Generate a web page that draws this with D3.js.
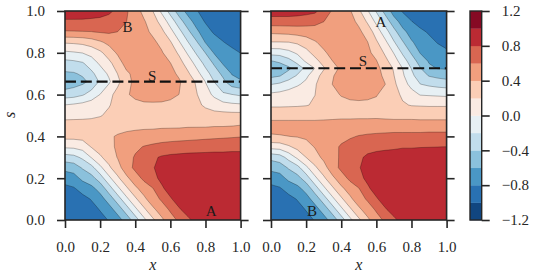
<!DOCTYPE html>
<html><head><meta charset="utf-8">
<script src="https://cdn.jsdelivr.net/npm/d3@7"></script>
<style>body{margin:0;background:#fff} svg text{font-family:"Liberation Serif","Times New Roman",serif !important;}</style>
</head><body><svg id="c" width="555" height="279"></svg>
<script>
// ---------------- data ----------------
const xCols = [0,0.05,0.1,0.15,0.2,0.25,0.3,0.35,0.4,0.45,0.5,0.55,0.6,0.65,0.7,0.75,0.8,0.85,0.9,0.95,1];
const levels = [-1.2,-1.0,-0.8,-0.6,-0.4,-0.2,0,0.2,0.4,0.6,0.8,1.0,1.2];
const xTicks = [0,0.2,0.4,0.6,0.8,1.0];
const sTicks = [0,0.2,0.4,0.6,0.8,1.0];
const cbTicks = [-1.2,-0.8,-0.4,0,0.4,0.8,1.2];

const leftRows = [1,0.95,0.9,0.85,0.8,0.75,0.7,0.662,0.6,0.55,0.5,0.45,0.4,0.35,0.3,0.25,0.2,0.15,0.1,0.05,0];
const leftGrid = [
[0.92,0.92,0.91,0.90,0.88,0.84,0.75,0.625,0.49,0.34,0.20,-0.04,-0.275,-0.50,-0.667,-0.79,-0.87,-0.92,-0.95,-0.97,-0.98],
[0.77,0.77,0.77,0.76,0.75,0.72,0.68,0.602,0.51,0.42,0.29,0.13,-0.09,-0.31,-0.52,-0.68,-0.82,-0.89,-0.93,-0.96,-0.97],
[0.58,0.585,0.59,0.595,0.615,0.625,0.598,0.55,0.50,0.45,0.365,0.25,0.07,-0.14,-0.35,-0.56,-0.71,-0.83,-0.89,-0.93,-0.95],
[0.22,0.23,0.25,0.30,0.37,0.45,0.52,0.55,0.54,0.50,0.44,0.35,0.22,0.02,-0.19,-0.38,-0.61,-0.70,-0.79,-0.86,-0.90],
[-0.04,-0.02,0.005,0.06,0.16,0.29,0.43,0.50,0.53,0.52,0.48,0.42,0.30,0.17,-0.03,-0.23,-0.405,-0.62,-0.68,-0.74,-0.805],
[-0.28,-0.26,-0.22,-0.10,0.03,0.15,0.30,0.48,0.51,0.52,0.51,0.47,0.405,0.27,0.12,-0.07,-0.26,-0.43,-0.62,-0.68,-0.72],
[-0.43,-0.42,-0.37,-0.25,-0.10,0.03,0.205,0.36,0.46,0.50,0.52,0.50,0.45,0.37,0.23,0.07,-0.12,-0.29,-0.45,-0.61,-0.66],
[-0.55,-0.50,-0.45,-0.35,-0.17,-0.03,0.15,0.33,0.45,0.50,0.52,0.51,0.47,0.42,0.31,0.17,-0.005,-0.205,-0.35,-0.53,-0.58],
[-0.30,-0.28,-0.22,-0.12,0.005,0.14,0.27,0.38,0.44,0.47,0.48,0.47,0.44,0.398,0.32,0.21,0.08,-0.04,-0.17,-0.195,-0.23],
[0.005,0.03,0.06,0.10,0.14,0.19,0.25,0.31,0.35,0.37,0.37,0.37,0.36,0.34,0.30,0.24,0.17,0.11,0.07,0.04,0.03],
[0.15,0.155,0.16,0.17,0.19,0.23,0.27,0.30,0.32,0.33,0.33,0.33,0.32,0.31,0.30,0.29,0.28,0.27,0.27,0.27,0.27],
[0.27,0.27,0.27,0.27,0.28,0.30,0.32,0.34,0.35,0.36,0.36,0.37,0.37,0.37,0.38,0.38,0.38,0.39,0.39,0.398,0.41],
[0.26,0.26,0.27,0.29,0.32,0.37,0.42,0.45,0.47,0.48,0.49,0.50,0.51,0.52,0.53,0.54,0.55,0.56,0.57,0.58,0.59],
[0.03,0.04,0.08,0.21,0.29,0.35,0.43,0.50,0.56,0.61,0.64,0.67,0.69,0.70,0.71,0.72,0.73,0.74,0.74,0.75,0.75],
[-0.29,-0.26,-0.16,0.01,0.17,0.29,0.41,0.52,0.62,0.70,0.77,0.82,0.84,0.85,0.86,0.86,0.86,0.86,0.86,0.86,0.86],
[-0.54,-0.51,-0.38,-0.27,-0.05,0.16,0.33,0.50,0.65,0.73,0.79,0.85,0.88,0.89,0.90,0.90,0.90,0.90,0.90,0.90,0.90],
[-0.72,-0.68,-0.55,-0.47,-0.30,-0.05,0.16,0.36,0.50,0.65,0.75,0.84,0.88,0.90,0.91,0.92,0.92,0.92,0.92,0.92,0.92],
[-0.85,-0.82,-0.73,-0.66,-0.53,-0.30,-0.05,0.16,0.36,0.48,0.59,0.77,0.87,0.91,0.93,0.94,0.94,0.94,0.94,0.94,0.94],
[-0.90,-0.89,-0.86,-0.79,-0.68,-0.52,-0.30,-0.05,0.16,0.36,0.50,0.63,0.78,0.88,0.92,0.94,0.95,0.95,0.95,0.95,0.95],
[-0.93,-0.92,-0.90,-0.87,-0.79,-0.68,-0.52,-0.30,-0.05,0.16,0.36,0.49,0.63,0.78,0.88,0.93,0.95,0.96,0.96,0.96,0.96],
[-0.95,-0.94,-0.93,-0.90,-0.86,-0.79,-0.68,-0.52,-0.30,-0.05,0.16,0.36,0.51,0.64,0.76,0.87,0.93,0.95,0.96,0.96,0.96]
];
const leftDash = 0.662;
const leftLabels = [{t:"B",x:0.356,s:0.923},{t:"S",x:0.496,s:0.689},{t:"A",x:0.832,s:0.043}];

const rightRows = [1,0.95,0.9,0.85,0.8,0.76,0.726,0.69,0.65,0.6,0.55,0.5,0.45,0.4,0.35,0.3,0.25,0.2,0.15,0.1,0.05,0];
const rightGrid = [
[0.90,0.90,0.90,0.89,0.87,0.84,0.71,0.58,0.50,0.42,0.24,0.02,-0.22,-0.47,-0.69,-0.82,-0.88,-0.92,-0.95,-0.97,-0.98],
[0.71,0.71,0.71,0.70,0.68,0.65,0.602,0.55,0.51,0.46,0.36,0.17,-0.05,-0.28,-0.52,-0.68,-0.795,-0.87,-0.92,-0.95,-0.96],
[0.44,0.45,0.46,0.48,0.50,0.52,0.53,0.53,0.52,0.49,0.44,0.32,0.11,-0.11,-0.33,-0.55,-0.67,-0.76,-0.82,-0.87,-0.90],
[0.19,0.19,0.195,0.23,0.29,0.38,0.46,0.50,0.51,0.49,0.45,0.405,0.23,0.05,-0.18,-0.38,-0.58,-0.67,-0.75,-0.81,-0.85],
[-0.13,-0.12,-0.06,0.03,0.14,0.26,0.37,0.46,0.50,0.50,0.48,0.44,0.34,0.17,-0.01,-0.23,-0.42,-0.61,-0.68,-0.73,-0.77],
[-0.41,-0.37,-0.27,-0.14,0.03,0.14,0.27,0.398,0.47,0.50,0.50,0.48,0.41,0.26,0.09,-0.10,-0.30,-0.48,-0.62,-0.65,-0.68],
[-0.55,-0.50,-0.44,-0.30,-0.15,0.005,0.18,0.32,0.44,0.49,0.51,0.50,0.45,0.33,0.18,-0.005,-0.21,-0.39,-0.56,-0.61,-0.62],
[-0.45,-0.41,-0.30,-0.18,-0.04,0.12,0.27,0.39,0.45,0.49,0.50,0.49,0.45,0.37,0.205,0.03,-0.15,-0.31,-0.41,-0.45,-0.48],
[-0.21,-0.17,-0.10,-0.03,0.05,0.18,0.30,0.402,0.45,0.48,0.49,0.48,0.45,0.402,0.24,0.08,-0.06,-0.198,-0.24,-0.27,-0.29],
[0.04,0.06,0.09,0.13,0.17,0.198,0.28,0.36,0.41,0.43,0.44,0.43,0.41,0.35,0.26,0.17,0.07,-0.01,-0.02,-0.03,-0.04],
[0.17,0.17,0.175,0.18,0.19,0.22,0.27,0.32,0.35,0.37,0.37,0.37,0.36,0.33,0.28,0.22,0.19,0.185,0.18,0.18,0.18],
[0.33,0.33,0.33,0.33,0.33,0.33,0.34,0.35,0.36,0.36,0.36,0.36,0.36,0.35,0.34,0.34,0.34,0.33,0.33,0.33,0.33],
[0.48,0.48,0.48,0.48,0.48,0.48,0.48,0.48,0.48,0.48,0.49,0.49,0.50,0.50,0.50,0.50,0.50,0.50,0.50,0.50,0.50],
[0.375,0.385,0.398,0.41,0.43,0.46,0.49,0.52,0.55,0.58,0.61,0.63,0.64,0.65,0.66,0.66,0.66,0.66,0.67,0.67,0.67],
[0.075,0.09,0.17,0.26,0.33,0.41,0.48,0.55,0.62,0.67,0.71,0.74,0.76,0.77,0.78,0.79,0.79,0.795,0.797,0.799,0.801],
[-0.34,-0.29,-0.13,0.04,0.202,0.33,0.44,0.53,0.63,0.70,0.77,0.83,0.85,0.86,0.86,0.87,0.87,0.87,0.87,0.87,0.87],
[-0.54,-0.51,-0.38,-0.27,-0.05,0.16,0.33,0.50,0.65,0.73,0.79,0.85,0.88,0.89,0.90,0.90,0.90,0.90,0.90,0.90,0.90],
[-0.72,-0.68,-0.55,-0.47,-0.30,-0.05,0.16,0.36,0.50,0.65,0.75,0.84,0.88,0.90,0.91,0.92,0.92,0.92,0.92,0.92,0.92],
[-0.85,-0.82,-0.73,-0.66,-0.53,-0.30,-0.05,0.16,0.36,0.48,0.59,0.77,0.87,0.91,0.93,0.94,0.94,0.94,0.94,0.94,0.94],
[-0.90,-0.89,-0.86,-0.79,-0.68,-0.52,-0.30,-0.05,0.16,0.36,0.50,0.63,0.78,0.88,0.92,0.94,0.95,0.95,0.95,0.95,0.95],
[-0.93,-0.92,-0.90,-0.87,-0.79,-0.68,-0.52,-0.30,-0.05,0.16,0.36,0.49,0.63,0.78,0.88,0.93,0.95,0.96,0.96,0.96,0.96],
[-0.95,-0.94,-0.93,-0.90,-0.86,-0.79,-0.68,-0.52,-0.30,-0.05,0.16,0.36,0.51,0.64,0.76,0.87,0.93,0.95,0.96,0.96,0.96]
];
const rightDash = 0.726;
const rightLabels = [{t:"A",x:0.626,s:0.947},{t:"S",x:0.524,s:0.76},{t:"B",x:0.233,s:0.043}];

// RdBu (matplotlib) colour stops, reversed for RdBu_r
const rdbuR = ["#053061","#2166ac","#4393c3","#92c5de","#d1e5f0","#f7f7f7","#fddbc7","#f4a582","#d6604d","#b2182b","#67001f"];

// ---------------- drawing ----------------
const FONT = '"Liberation Serif","Times New Roman",serif';
const INK = "#262626";
const W = 175.6, Y0 = 11, Y1 = 220;
const svg = d3.select("#c");
const cmap = d3.scaleLinear().domain(rdbuR.map((d,i)=>i/(rdbuR.length-1))).range(rdbuR).interpolate(d3.interpolateRgb);
const lo = levels[0], hi = levels[levels.length-1];
const binColors = levels.slice(0,-1).map((v,i)=>cmap(((v+levels[i+1])/2 - lo)/(hi-lo)));
const fmt = d3.format(".1f");
const y = d3.scaleLinear().domain([0,1]).range([Y1,Y0]);

function styleAxis(a){
  a.attr("font-size",15).style("font-family",FONT);
  a.select(".domain").remove();
  a.selectAll("line").attr("stroke",INK).attr("stroke-width",1.6);
  a.selectAll("text").attr("fill",INK).style("font-family",FONT).style("font-size","15px");
}

function panel(grid, rows, x0, dashS, labels, showY, xlab){
  const x = d3.scaleLinear().domain([0,1]).range([x0,x0+W]);
  const n = xCols.length, m = rows.length;
  const gx = d3.scaleLinear().domain(xCols.map((d,i)=>i+0.5)).range(xCols);
  const gy = d3.scaleLinear().domain(rows.map((d,j)=>j+0.5)).range(rows);
  const path = d3.geoPath(d3.geoTransform({point(a,b){ this.stream.point(x(gx(a)), y(gy(b))); }}));
  const id = "clip"+Math.round(x0);
  svg.append("clipPath").attr("id",id).append("rect")
     .attr("x",x0).attr("y",Y0).attr("width",W).attr("height",Y1-Y0);
  const g = svg.append("g");
  const cg = g.append("g").attr("clip-path",`url(#${id})`);
  const cs = d3.contours().size([n,m]).thresholds(levels.slice(0,-1))(grid.flat());
  cg.selectAll("path.f").data(cs).join("path").attr("class","f")
    .attr("d",path).attr("fill",(d,i)=>binColors[i]);
  cg.selectAll("path.l").data(cs.slice(1)).join("path").attr("class","l")
    .attr("d",path).attr("fill","none").attr("stroke","#000")
    .attr("stroke-opacity",0.45).attr("stroke-width",0.6);
  cg.append("line").attr("x1",x(0)).attr("x2",x(1)).attr("y1",y(dashS)).attr("y2",y(dashS))
    .attr("stroke","#111").attr("stroke-width",2.2).attr("stroke-dasharray","11,4.8");
  g.selectAll("text.lab").data(labels).join("text").attr("class","lab")
    .attr("x",d=>x(d.x)).attr("y",d=>y(d.s)).attr("dy","0.34em")
    .attr("text-anchor","middle").style("font-family",FONT).style("font-size","15px")
    .attr("fill","#1a1a1a").text(d=>d.t);
  g.append("rect").attr("x",x0).attr("y",Y0).attr("width",W).attr("height",Y1-Y0)
    .attr("fill","none").attr("stroke",INK).attr("stroke-width",1.6);
  const ab = g.append("g").attr("transform",`translate(0,${Y1})`)
    .call(d3.axisBottom(x).tickValues(xTicks).tickSize(8).tickPadding(13).tickFormat(fmt));
  styleAxis(ab);
  const al = g.append("g").attr("transform",`translate(${x0},0)`)
    .call(d3.axisLeft(y).tickValues(sTicks).tickSize(8).tickPadding(12).tickFormat(showY?fmt:()=>""));
  styleAxis(al);
  const ar = g.append("g").attr("transform",`translate(${x0+W},0)`)
    .call(d3.axisRight(y).tickValues(sTicks).tickSize(8).tickFormat(()=>""));
  styleAxis(ar);
  g.append("text").attr("x",x(0.5)).attr("y",270).attr("text-anchor","middle")
    .style("font-family",FONT).style("font-size","16px").style("font-style","italic").attr("fill",INK).text(xlab);
}

panel(leftGrid, leftRows, 65, leftDash, leftLabels, true, "x");
panel(rightGrid, rightRows, 271, rightDash, rightLabels, false, "x");

svg.append("text").attr("transform","translate(11,115) rotate(-90)").attr("dy","0.25em")
  .attr("text-anchor","middle").style("font-family",FONT).style("font-size","16px")
  .style("font-style","italic").attr("fill",INK).text("s");

// colour bar
const cbX = 470, cbW = 11.7;
const cbY = d3.scaleLinear().domain([lo,hi]).range([Y1,Y0]);
const cb = svg.append("g");
cb.selectAll("rect.b").data(levels.slice(0,-1)).join("rect").attr("class","b")
  .attr("x",cbX).attr("width",cbW)
  .attr("y",(d,i)=>cbY(levels[i+1])).attr("height",(d,i)=>cbY(d)-cbY(levels[i+1])+0.3)
  .attr("fill",(d,i)=>binColors[i]);
cb.append("rect").attr("x",cbX).attr("y",Y0).attr("width",cbW).attr("height",Y1-Y0)
  .attr("fill","none").attr("stroke",INK).attr("stroke-width",1.4);
const ac = cb.append("g").attr("transform",`translate(${cbX+cbW},0)`)
  .call(d3.axisRight(cbY).tickValues(cbTicks).tickSize(8).tickPadding(12).tickFormat(fmt));
styleAxis(ac);
</script></body></html>
